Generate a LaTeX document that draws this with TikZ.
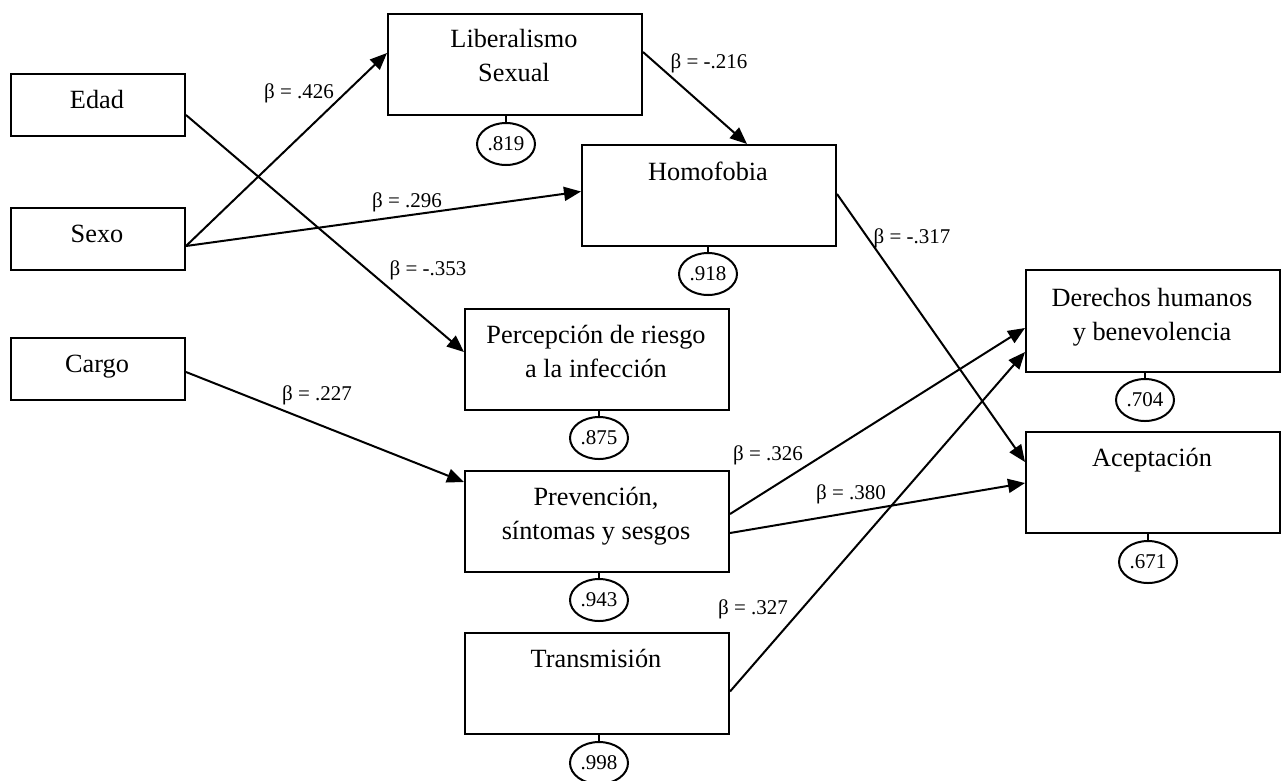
\documentclass[tikz,border=0pt]{standalone}
\usepackage{fontspec}
\setmainfont{Liberation Serif}
\usetikzlibrary{arrows.meta,shapes.geometric,calc}
\begin{document}
\begin{tikzpicture}[x=1pt,y=-1pt,
  box/.style={draw,line width=2pt,inner sep=0,anchor=north west},
  big/.style={font=\fontsize{26.3}{33.5}\selectfont,align=center,anchor=base,inner sep=0},
  err/.style={draw,ellipse,line width=2pt,minimum width=58pt,minimum height=42pt,inner sep=0,font=\fontsize{21}{25}\selectfont},
  coef/.style={font=\fontsize{21}{25}\selectfont,inner sep=0,anchor=base},
  arr/.style={line width=2pt,-{Triangle[length=17pt,width=14pt]}},
  stem/.style={line width=2pt}]
\useasboundingbox (0,0) rectangle (1281,780);
% boxes
\node[box,minimum width=174pt,minimum height=62pt] (edad) at (10,73) {};
\node[box,minimum width=174pt,minimum height=62pt] (sexo) at (10,207) {};
\node[box,minimum width=174pt,minimum height=62pt] (cargo) at (10,337) {};
\node[box,minimum width=254pt,minimum height=101pt] (lib) at (387,13) {};
\node[box,minimum width=254pt,minimum height=101pt] (hom) at (581,144) {};
\node[box,minimum width=264pt,minimum height=101pt] (perc) at (464,308) {};
\node[box,minimum width=264pt,minimum height=101pt] (prev) at (464,470) {};
\node[box,minimum width=264pt,minimum height=101pt] (trans) at (464,632) {};
\node[box,minimum width=254pt,minimum height=102pt] (der) at (1025,269) {};
\node[box,minimum width=254pt,minimum height=101pt] (acep) at (1025,431) {};
% texts (base = last line baseline)
\node[big] (tedad) at (97,108) {Edad};
\node[big] (tsexo) at (97,242) {Sexo};
\node[big] (tcargo) at (97,372) {Cargo};
\node[big] (tlib) at (514,81) {Liberalismo\\Sexual};
\node[big] (thom) at (708,180) {Homofobia};
\node[big] (tperc) at (596,377) {Percepción de riesgo\\a la infección};
\node[big] (tprev) at (596,539) {Prevención,\\síntomas y sesgos};
\node[big] (ttrans) at (596,667) {Transmisión};
\node[big] (tder) at (1152,340) {Derechos humanos\\y benevolencia};
\node[big] (tacep) at (1152,466) {Aceptación};
% error terms
\node[err] (e1) at (506,144) {.819};
\node[err] (e2) at (708,274) {.918};
\node[err] (e3) at (599,438) {.875};
\node[err] (e4) at (599,600) {.943};
\node[err] (e5) at (599,763) {.998};
\node[err] (e6) at (1145,400) {.704};
\node[err] (e7) at (1148,562) {.671};
\draw[stem] (lib.south -| e1.north) -- (e1.north);
\draw[stem] (hom.south -| e2.north) -- (e2.north);
\draw[stem] (perc.south -| e3.north) -- (e3.north);
\draw[stem] (prev.south -| e4.north) -- (e4.north);
\draw[stem] (trans.south -| e5.north) -- (e5.north);
\draw[stem] (der.south -| e6.north) -- (e6.north);
\draw[stem] (acep.south -| e7.north) -- (e7.north);
% paths
\draw[arr] ([yshift=-7pt]sexo.east) -- ([yshift=11.5pt]lib.west);
\draw[arr] ([yshift=-7pt]sexo.east) -- ([yshift=4pt]hom.west);
\draw[arr] ([yshift=-10pt]edad.east) -- ([yshift=7.5pt]perc.west);
\draw[arr] ([yshift=12.5pt]lib.east) -- ([xshift=38pt]hom.north);
\draw[arr] ([yshift=1.5pt]hom.east) -- ([yshift=20.5pt]acep.west);
\draw[arr] ([yshift=-3pt]cargo.east) -- ([yshift=39.5pt]prev.west);
\draw[arr] ([yshift=7.5pt]prev.east) -- ([yshift=-7pt]der.west);
\draw[arr] ([yshift=-11.5pt]prev.east) -- ([yshift=-0.5pt]acep.west);
\draw[arr] ([yshift=-8pt]trans.east) -- ([yshift=-31pt]der.west);
% coefficients
\node[coef] (b1) at (299,98) {β = .426};
\node[coef] (b2) at (407,207) {β = .296};
\node[coef] (b3) at (428,275) {β = -.353};
\node[coef] (b4) at (709,68) {β = -.216};
\node[coef] (b5) at (317,400) {β = .227};
\node[coef] (b6) at (768,460) {β = .326};
\node[coef] (b7) at (851,499) {β = .380};
\node[coef] (b8) at (753,614) {β = .327};
\node[coef] (b9) at (912,243) {β = -.317};
\end{tikzpicture}
\end{document}
